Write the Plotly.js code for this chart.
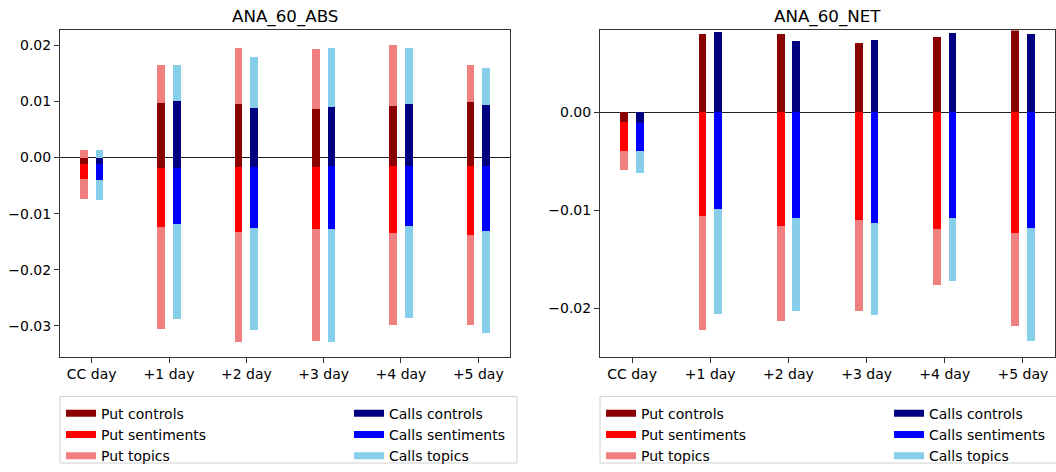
<!DOCTYPE html>
<html>
<head>
<meta charset="utf-8">
<script src="https://cdn.plot.ly/plotly-3.0.1.min.js"></script>
<style>
  html, body { margin: 0; padding: 0; background: #fff; }
  #chart { width: 1056px; height: 472px; }
</style>
</head>
<body>
<div id="chart"></div>
<script>
// ---------- data ----------
const categories = ['CC day', '+1 day', '+2 day', '+3 day', '+4 day', '+5 day'];
const panelTitles = ['ANA_60_ABS', 'ANA_60_NET'];
const seriesNames = ['Put controls', 'Put sentiments', 'Put topics', 'Calls controls', 'Calls sentiments', 'Calls topics'];

// ANA_60_ABS : each bar runs from Low to High
const absPutControlsLow    = [-0.0011, -0.0019, -0.0017, -0.0017, -0.0015, -0.0015];
const absPutControlsHigh   = [0.0000, 0.0097, 0.0095, 0.0086, 0.0092, 0.0099];
const absPutSentimentsLow  = [-0.0039, -0.0124, -0.0133, -0.0128, -0.0135, -0.0138];
const absPutSentimentsHigh = [-0.0011, -0.0019, -0.0017, -0.0017, -0.0015, -0.0015];
const absPutTopicsLow      = [-0.0074, -0.0306, -0.0329, -0.0326, -0.0299, -0.0299];
const absPutTopicsHigh     = [0.0013, 0.0165, 0.0195, 0.0193, 0.0200, 0.0165];

const absCallsControlsLow    = [-0.0012, -0.0019, -0.0017, -0.0015, -0.0015, -0.0015];
const absCallsControlsHigh   = [0.0000, 0.0100, 0.0088, 0.0090, 0.0095, 0.0093];
const absCallsSentimentsLow  = [-0.0040, -0.0119, -0.0126, -0.0128, -0.0122, -0.0131];
const absCallsSentimentsHigh = [-0.0012, -0.0019, -0.0017, -0.0015, -0.0015, -0.0015];
const absCallsTopicsLow      = [-0.0075, -0.0288, -0.0308, -0.0329, -0.0286, -0.0313];
const absCallsTopicsHigh     = [0.0013, 0.0165, 0.0179, 0.0195, 0.0195, 0.0159];

// ANA_60_NET
const netPutControlsLow    = [-0.0010, 0, 0, 0, 0, 0];
const netPutControlsHigh   = [0.0000, 0.0080, 0.0080, 0.0071, 0.0077, 0.0085];
const netPutSentimentsLow  = [-0.0039, -0.0106, -0.0116, -0.0110, -0.0119, -0.0123];
const netPutSentimentsHigh = [-0.0010, 0, 0, 0, 0, 0];
const netPutTopicsLow      = [-0.0059, -0.0222, -0.0213, -0.0203, -0.0176, -0.0218];
const netPutTopicsHigh     = [-0.0039, -0.0106, -0.0116, -0.0110, -0.0119, -0.0123];

const netCallsControlsLow    = [-0.0011, 0, 0, 0, 0, 0];
const netCallsControlsHigh   = [0.0000, 0.0082, 0.0073, 0.0074, 0.0081, 0.0080];
const netCallsSentimentsLow  = [-0.0039, -0.0099, -0.0108, -0.0113, -0.0108, -0.0118];
const netCallsSentimentsHigh = [-0.0011, 0, 0, 0, 0, 0];
const netCallsTopicsLow      = [-0.0062, -0.0206, -0.0203, -0.0207, -0.0172, -0.0234];
const netCallsTopicsHigh     = [-0.0039, -0.0099, -0.0108, -0.0113, -0.0108, -0.0118];

// ---------- style ----------
const colors = {
  'Put controls': '#8B0000', 'Put sentiments': '#FF0000', 'Put topics': '#F08080',
  'Calls controls': '#000080', 'Calls sentiments': '#0000FF', 'Calls topics': '#87CEEB'
};
const FONT = 'DejaVu Sans, sans-serif';
const W = 1056, H = 472;

function barTrace(name, low, high, offset, xa, ya) {
  return {
    type: 'bar', name: name, x: categories,
    y: high.map((h, i) => h - low[i]), base: low,
    width: 0.1, offset: offset,
    marker: { color: colors[name], line: { width: 0 } },
    xaxis: xa, yaxis: ya, showlegend: false, hoverinfo: 'skip'
  };
}
function legendTrace(name, legendId, xa, ya) {
  return {
    type: 'scatter', mode: 'lines', name: name, x: [null], y: [null],
    line: { color: colors[name], width: 7 },
    xaxis: xa, yaxis: ya, legend: legendId, showlegend: true, hoverinfo: 'skip'
  };
}

const traces = [
  // left panel (draw topics, then sentiments, then controls on top)
  barTrace('Put topics', absPutTopicsLow, absPutTopicsHigh, -0.15, 'x', 'y'),
  barTrace('Put sentiments', absPutSentimentsLow, absPutSentimentsHigh, -0.15, 'x', 'y'),
  barTrace('Put controls', absPutControlsLow, absPutControlsHigh, -0.15, 'x', 'y'),
  barTrace('Calls topics', absCallsTopicsLow, absCallsTopicsHigh, 0.05, 'x', 'y'),
  barTrace('Calls sentiments', absCallsSentimentsLow, absCallsSentimentsHigh, 0.05, 'x', 'y'),
  barTrace('Calls controls', absCallsControlsLow, absCallsControlsHigh, 0.05, 'x', 'y'),
  // right panel
  barTrace('Put topics', netPutTopicsLow, netPutTopicsHigh, -0.15, 'x2', 'y2'),
  barTrace('Put sentiments', netPutSentimentsLow, netPutSentimentsHigh, -0.15, 'x2', 'y2'),
  barTrace('Put controls', netPutControlsLow, netPutControlsHigh, -0.15, 'x2', 'y2'),
  barTrace('Calls topics', netCallsTopicsLow, netCallsTopicsHigh, 0.05, 'x2', 'y2'),
  barTrace('Calls sentiments', netCallsSentimentsLow, netCallsSentimentsHigh, 0.05, 'x2', 'y2'),
  barTrace('Calls controls', netCallsControlsLow, netCallsControlsHigh, 0.05, 'x2', 'y2')
];
seriesNames.slice(0, 3).forEach(n => traces.push(legendTrace(n, 'legend', 'x', 'y')));
seriesNames.slice(3).forEach(n => traces.push(legendTrace(n, 'legend2', 'x', 'y')));
seriesNames.slice(0, 3).forEach(n => traces.push(legendTrace(n, 'legend3', 'x2', 'y2')));
seriesNames.slice(3).forEach(n => traces.push(legendTrace(n, 'legend4', 'x2', 'y2')));

function xAxis(domain, anchor) {
  return {
    domain: domain, anchor: anchor, type: 'category', range: [-0.41, 5.41],
    showgrid: false, zeroline: false, showline: true, mirror: true,
    linecolor: '#333', linewidth: 1, ticks: 'outside', ticklen: 5, tickwidth: 1,
    tickcolor: '#333', tickfont: { family: FONT, size: 14, color: '#000' }, fixedrange: true
  };
}
function yAxis(range, anchor) {
  return {
    domain: [1 - 362.7 / H, 1 - 31 / H], anchor: anchor, range: range,
    dtick: 0.01, tick0: 0, tickformat: '.2f',
    showgrid: false, zeroline: true, zerolinecolor: '#222', zerolinewidth: 1,
    showline: true, mirror: true, linecolor: '#333', linewidth: 1,
    ticks: 'outside', ticklen: 5, tickwidth: 1, tickcolor: '#333',
    tickfont: { family: FONT, size: 14, color: '#000' }, fixedrange: true
  };
}
function legendBox(xpx, ypx) {
  return {
    x: xpx / W, y: 1 - ypx / H, xanchor: 'left', yanchor: 'top',
    orientation: 'v', bgcolor: 'rgba(0,0,0,0)', borderwidth: 0,
    font: { family: FONT, size: 14, color: '#000' }, traceorder: 'normal'
  };
}

const layout = {
  width: W, height: H,
  margin: { l: 0, r: 0, t: 0, b: 0, pad: 0 },
  paper_bgcolor: '#fff', plot_bgcolor: '#fff',
  barmode: 'overlay', bargap: 0,
  font: { family: FONT, size: 14, color: '#000' },
  xaxis: xAxis([60 / W, 510 / W], 'y'),
  yaxis: yAxis([-0.03545, 0.02264], 'x'),
  xaxis2: xAxis([600 / W, 1055 / W], 'y2'),
  yaxis2: yAxis([-0.02496, 0.00837], 'x2'),
  legend: legendBox(61, 404.5),
  legend2: legendBox(349, 404.5),
  legend3: legendBox(601, 404.5),
  legend4: legendBox(889, 404.5),
  shapes: [
    { type: 'rect', xref: 'paper', yref: 'paper', x0: 60 / W, x1: 517 / W, y0: 1 - 471 / H, y1: 1 - 403.5 / H,
      line: { color: '#d0d0d0', width: 1 }, fillcolor: 'rgba(255,255,255,0.8)', layer: 'below' },
    { type: 'rect', xref: 'paper', yref: 'paper', x0: 600 / W, x1: 1060 / W, y0: 1 - 471 / H, y1: 1 - 403.5 / H,
      line: { color: '#d0d0d0', width: 1 }, fillcolor: 'rgba(255,255,255,0.8)', layer: 'below' }
  ],
  annotations: [
    { text: panelTitles[0], xref: 'paper', yref: 'paper', x: 285 / W, y: 1 - 17 / H,
      xanchor: 'center', yanchor: 'middle', showarrow: false, font: { family: FONT, size: 16.7, color: '#000' } },
    { text: panelTitles[1], xref: 'paper', yref: 'paper', x: 827 / W, y: 1 - 17 / H,
      xanchor: 'center', yanchor: 'middle', showarrow: false, font: { family: FONT, size: 16.7, color: '#000' } }
  ]
};

Plotly.newPlot('chart', traces, layout, { staticPlot: true, displayModeBar: false });
</script>
</body>
</html>
